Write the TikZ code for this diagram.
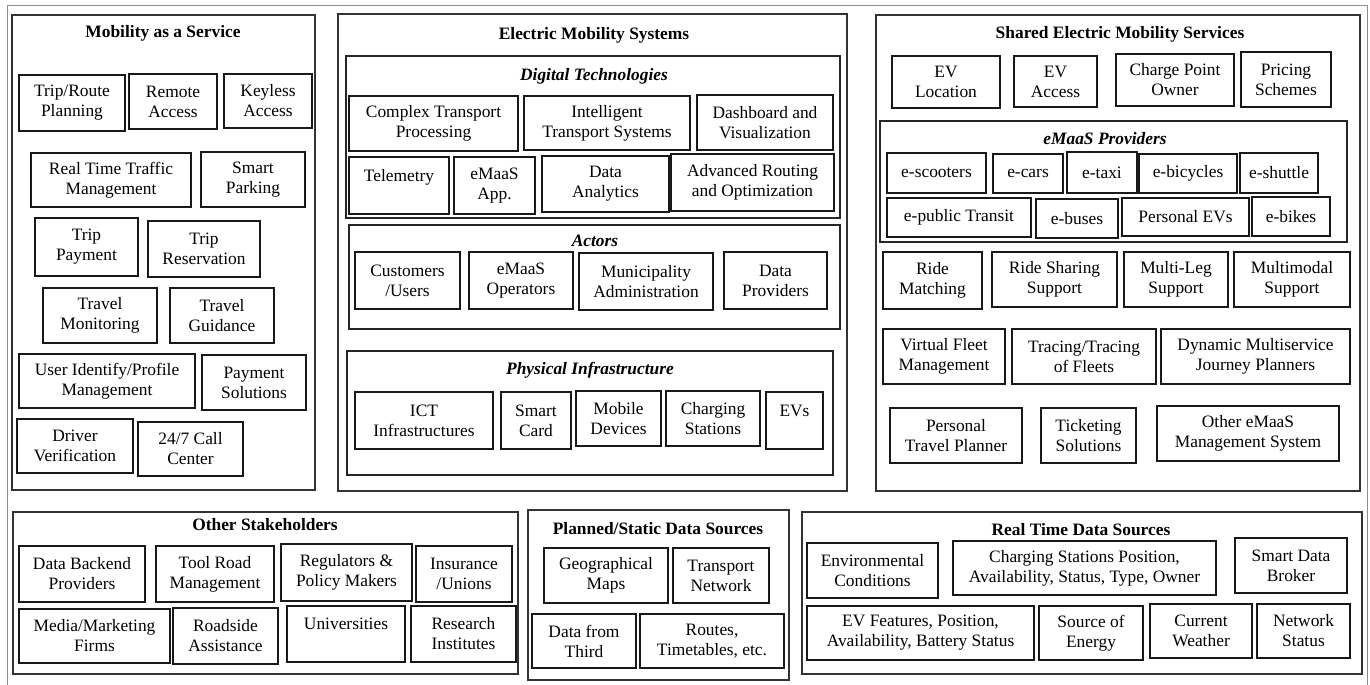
\documentclass[tikz,border=0pt]{standalone}
\usepackage{fontspec}
\setmainfont{Liberation Serif}
\newcommand{\boxfont}{\fontsize{8.7}{10}\selectfont}
\tikzset{panel/.style={draw=black!80,line width=1pt,inner sep=0pt},
	group/.style={draw=black!85,line width=0.9pt,inner sep=0pt},
	item/.style={draw=black!90,line width=0.9pt,align=center,inner sep=1pt,font=\boxfont},
	paneltitle/.style={font=\boxfont\bfseries},
	grouptitle/.style={font=\boxfont\bfseries\itshape},
	frame/.style={draw=black!45,line width=0.5pt},
	}
% box from its corners (pixels of the layout)
\newcommand{\placebox}[7][item]{%
	\node[#1,minimum width={(#5-#3)*0.5pt},minimum height={(#6-#4)*0.5pt}]
		(#2) at ({(#3+#5)/2},{(#4+#6)/2}) {#7};}
\begin{document}
\begin{tikzpicture}[x=0.5pt,y=-0.5pt]
	\useasboundingbox (0,0) rectangle (1370,685);
	\draw[frame] (7,690) -- (7,5) -- (1367,5) -- (1367,690);
	% Mobility as a Service
	\placebox[panel]{maas}{12}{15}{315}{490}{}
	\node[paneltitle] (maas-t) at (163,33) {Mobility as a Service};
	\placebox{trip}{19}{75}{125}{131}{Trip/Route\\Planning}
	\placebox{remote}{129}{74}{217}{129}{Remote\\Access}
	\placebox{keyless}{224}{74}{312}{128}{Keyless\\Access}
	\placebox{traffic}{31}{153}{191}{207}{Real Time Traffic\\Management}
	\placebox{parking}{201}{152}{305}{207}{Smart\\Parking}
	\placebox{tpay}{35}{218}{138}{276}{Trip\\Payment}
	\placebox{tres}{148}{221}{260}{277}{Trip\\Reservation}
	\placebox{tmon}{43}{288}{157}{343}{Travel\\Monitoring}
	\placebox{tguide}{170}{288}{274}{343}{Travel\\Guidance}
	\placebox{userid}{19}{354}{195}{408}{User Identify/Profile\\Management}
	\placebox{paysol}{202}{355}{306}{410}{Payment\\Solutions}
	\placebox{driver}{17}{419}{133}{473}{Driver\\Verification}
	\placebox{callc}{138}{422}{243}{476}{24/7 Call\\Center}
	% Electric Mobility Systems
	\placebox[panel]{ems}{338}{14}{847}{491}{}
	\node[paneltitle] (ems-t) at (594,35) {Electric Mobility Systems};
	\placebox[group]{digital}{346}{56}{840}{218}{}
	\node[grouptitle] (digital-t) at (594,76) {Digital Technologies};
	\placebox{ctp}{349}{96}{518}{151}{Complex Transport\\Processing}
	\placebox{its}{524}{96}{690}{150}{Intelligent\\Transport Systems}
	\placebox{dash}{697}{95}{833}{150}{Dashboard and\\Visualization}
	\placebox{telem}{349}{157}{449}{214}{Telemetry\\\mbox{}}
	\placebox{app}{454}{157}{535}{214}{eMaaS\\App.}
	\placebox{analytics}{542}{156}{669}{212}{Data\\Analytics}
	\placebox{routing}{671}{154}{834}{211}{Advanced Routing\\and Optimization}
	\placebox[group]{actors}{349}{225}{840}{329}{}
	\node[grouptitle] (actors-t) at (595,241) {Actors};
	\placebox{cust}{355}{252}{460}{309}{Customers\\/Users}
	\placebox{ops}{469}{252}{573}{309}{eMaaS\\Operators}
	\placebox{muni}{579}{253}{713}{310}{Municipality\\Administration}
	\placebox{dprov}{724}{252}{827}{309}{Data\\Providers}
	\placebox[group]{phys}{347}{351}{833}{475}{}
	\node[grouptitle] (phys-t) at (590,370) {Physical Infrastructure};
	\placebox{ict}{355}{392}{493}{449}{ICT\\Infrastructures}
	\placebox{scard}{501}{392}{571}{449}{Smart\\Card}
	\placebox{mobile}{576}{391}{661}{446}{Mobile\\Devices}
	\placebox{cstat}{666}{391}{760}{446}{Charging\\Stations}
	\placebox{evs}{766}{392}{823}{449}{EVs\\\mbox{}}
	% Shared Electric Mobility Services
	\placebox[panel]{sems}{876}{15}{1360}{491}{}
	\node[paneltitle] (sems-t) at (1120,34) {Shared Electric Mobility Services};
	\placebox{evloc}{892}{56}{1000}{108}{EV\\Location}
	\placebox{evacc}{1014}{56}{1097}{107}{EV\\Access}
	\placebox{cpo}{1116}{54}{1234}{106}{Charge Point\\Owner}
	\placebox{pricing}{1241}{52}{1331}{107}{Pricing\\Schemes}
	\placebox[group]{prov}{880}{121}{1347}{242}{}
	\node[grouptitle] (prov-t) at (1105,139) {eMaaS Providers};
	\placebox{escoot}{887}{153}{986}{193}{e-scooters}
	\placebox{ecars}{993}{154}{1063}{193}{e-cars}
	\placebox{etaxi}{1067}{152}{1137}{193}{e-taxi}
	\placebox{ebicy}{1139}{154}{1237}{193}{e-bicycles}
	\placebox{eshut}{1240}{153}{1318}{193}{e-shuttle}
	\placebox{epub}{887}{198}{1031}{237}{e-public Transit}
	\placebox{ebus}{1036}{199}{1118}{238}{e-buses}
	\placebox{pevs}{1122}{198}{1249}{236}{Personal EVs}
	\placebox{ebikes}{1252}{197}{1330}{236}{e-bikes}
	\placebox{ridem}{883}{252}{982}{309}{Ride\\Matching}
	\placebox{rides}{992}{252}{1117}{307}{Ride Sharing\\Support}
	\placebox{mleg}{1124}{252}{1228}{307}{Multi-Leg\\Support}
	\placebox{mmod}{1234}{252}{1350}{307}{Multimodal\\Support}
	\placebox{vfleet}{883}{329}{1005}{384}{Virtual Fleet\\Management}
	\placebox{tracing}{1012}{329}{1156}{384}{Tracing/Tracing\\of Fleets}
	\placebox{dmjp}{1161}{329}{1350}{384}{Dynamic Multiservice\\Journey Planners}
	\placebox{ptp}{890}{408}{1022}{463}{Personal\\Travel Planner}
	\placebox{ticket}{1041}{408}{1136}{463}{Ticketing\\Solutions}
	\placebox{othersys}{1157}{406}{1339}{461}{Other eMaaS\\Management System}
	% Other Stakeholders
	\placebox[panel]{stake}{13}{512}{518}{674}{}
	\node[paneltitle] (stake-t) at (265,525) {Other Stakeholders};
	\placebox{backend}{19}{546}{145}{602}{Data Backend\\Providers}
	\placebox{toll}{156}{546}{274}{602}{Tool Road\\Management}
	\placebox{reg}{281}{544}{412}{601}{Regulators \&\\Policy Makers}
	\placebox{ins}{416}{546}{512}{602}{Insurance\\/Unions}
	\placebox{media}{19}{609}{170}{663}{Media/Marketing\\Firms}
	\placebox{road}{173}{608}{278}{664}{Roadside\\Assistance}
	\placebox{univ}{287}{606}{405}{662}{Universities\\\mbox{}}
	\placebox{research}{411}{606}{516}{662}{Research\\Institutes}
	% Planned/Static Data Sources
	\placebox[panel]{static}{528}{510}{789}{680}{}
	\node[paneltitle] (static-t) at (658,529) {Planned/Static Data Sources};
	\placebox{geo}{544}{548}{668}{603}{Geographical\\Maps}
	\placebox{tnet}{673}{548}{769}{603}{Transport\\Network}
	\placebox{third}{532}{614}{636}{668}{Data from\\Third}
	\placebox{routes}{640}{614}{784}{668}{Routes,\\Timetables, etc.}
	% Real Time Data Sources
	\placebox[panel]{rt}{802}{512}{1362}{674}{}
	\node[paneltitle] (rt-t) at (1081,530) {Real Time Data Sources};
	\placebox{env}{807}{543}{938}{598}{Environmental\\Conditions}
	\placebox{csp}{953}{541}{1216}{595}{Charging Stations Position,\\Availability, Status, Type, Owner}
	\placebox{broker}{1235}{538}{1347}{593}{Smart Data\\Broker}
	\placebox{evf}{807}{606}{1034}{660}{EV Features, Position,\\Availability, Battery Status}
	\placebox{energy}{1039}{606}{1143}{660}{Source of\\Energy}
	\placebox{weather}{1150}{604}{1252}{658}{Current\\Weather}
	\placebox{netst}{1257}{604}{1350}{658}{Network\\Status}
\end{tikzpicture}
\end{document}
